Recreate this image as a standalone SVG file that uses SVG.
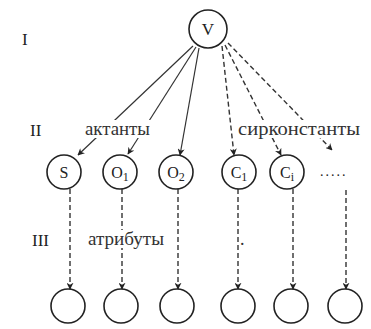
<svg xmlns="http://www.w3.org/2000/svg" width="371" height="329" viewBox="0 0 371 329" font-family="Liberation Serif, Times New Roman, serif">
<style>
.node{fill:#fff;stroke:#222;stroke-width:1.6}
text{fill:#222}
.lbl{fill:#333;font-size:18px}
.solid{stroke:#333;stroke-width:1.2;fill:none;marker-end:url(#ah)}
.dash{stroke:#333;stroke-width:1.4;fill:none;stroke-dasharray:5 3;marker-end:url(#ah)}
</style>
<defs>
<marker id="ah" viewBox="0 0 10 10" refX="9" refY="5" markerWidth="7" markerHeight="7" orient="auto" markerUnits="userSpaceOnUse">
<path d="M0,0 L10,5 L0,10 L3,5 Z" fill="#222"/>
</marker>
</defs>
<rect width="371" height="329" fill="#fff"/>
<g id="levels">
<text x="22" y="45" font-size="17">I</text>
<text x="30" y="136" font-size="17">II</text>
<text x="32" y="246" font-size="17">III</text>
</g>
<g id="connectors">
<line class="solid" x1="193" y1="46" x2="78" y2="155"/>
<line class="solid" x1="196" y1="47" x2="128" y2="154"/>
<line class="solid" x1="199" y1="48" x2="180" y2="155"/>
<line class="dash" x1="222" y1="46" x2="234" y2="155"/>
<line class="dash" x1="225" y1="45" x2="281" y2="155"/>
<line class="dash" x1="228" y1="43" x2="332" y2="150"/>
<line class="dash" x1="70" y1="189" x2="70" y2="289"/>
<line class="dash" x1="122" y1="189" x2="122" y2="289"/>
<line class="dash" x1="178" y1="189" x2="178" y2="289"/>
<line class="dash" x1="238" y1="189" x2="238" y2="289"/>
<line class="dash" x1="293" y1="189" x2="293" y2="289"/>
<line class="dash" x1="346" y1="190" x2="346" y2="289"/>
</g>
<g id="labels">
<rect x="84" y="120" width="68" height="18" fill="#fff"/>
<text class="lbl" x="85" y="135" textLength="65" lengthAdjust="spacingAndGlyphs">актанты</text>
<rect x="237" y="120" width="126" height="18" fill="#fff"/>
<text class="lbl" x="238" y="135" textLength="122" lengthAdjust="spacingAndGlyphs">сирконстанты</text>
<rect x="87" y="230" width="80" height="18" fill="#fff"/>
<text class="lbl" x="88" y="245" textLength="76" lengthAdjust="spacingAndGlyphs">атрибуты</text>
<text class="lbl" x="240" y="245">.</text>
</g>
<g id="V"><circle class="node" cx="208" cy="29" r="19"/><text x="208" y="35" font-size="17" text-anchor="middle">V</text></g>
<g id="S"><circle class="node" cx="64" cy="172" r="17"/><text x="64" y="178" font-size="16" text-anchor="middle">S</text></g>
<g id="O1"><circle class="node" cx="120" cy="172" r="17"/><text x="120" y="178" font-size="16" text-anchor="middle">O<tspan font-size="12" dy="3">1</tspan></text></g>
<g id="O2"><circle class="node" cx="176" cy="172" r="17"/><text x="176" y="178" font-size="16" text-anchor="middle">O<tspan font-size="12" dy="3">2</tspan></text></g>
<g id="C1"><circle class="node" cx="239" cy="172" r="17"/><text x="239" y="178" font-size="16" text-anchor="middle">C<tspan font-size="12" dy="3">1</tspan></text></g>
<g id="Ci"><circle class="node" cx="287" cy="172" r="17"/><text x="287" y="178" font-size="16" text-anchor="middle">C<tspan font-size="12" dy="3">i</tspan></text></g>
<g id="dots"><text x="320" y="176" font-size="14" letter-spacing="2">.....</text></g>
<g id="A1"><circle class="node" cx="68" cy="306" r="17"/></g>
<g id="A2"><circle class="node" cx="121" cy="306" r="17"/></g>
<g id="A3"><circle class="node" cx="177" cy="306" r="17"/></g>
<g id="A4"><circle class="node" cx="238" cy="306" r="17"/></g>
<g id="A5"><circle class="node" cx="291" cy="306" r="17"/></g>
<g id="A6"><circle class="node" cx="345" cy="306" r="17"/></g>
</svg>
